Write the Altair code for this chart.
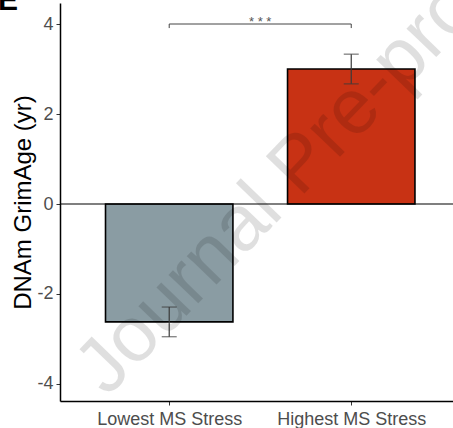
import altair as alt
import pandas as pd

# Group means (years) with standard errors
groups = ["Lowest MS Stress", "Highest MS Stress"]
positions = [1, 2]
means = [-2.62, 3.0]
errors = [0.33, 0.33]
fill_colors = ["#8A9CA3", "#C83214"]

# Significance bracket between the two groups
sig_label = "* * *"
sig_height = 4.0
sig_tip = 0.09

y_ticks = [-4, -2, 0, 2, 4]

BAR_HALF = 0.35
FONT = "Liberation Sans"

df = pd.DataFrame({"group": groups, "pos": positions, "mean": means,
                   "err": errors, "fill": fill_colors})
df["x0"] = df["pos"] - BAR_HALF
df["x1"] = df["pos"] + BAR_HALF
df["lo"] = df["mean"] - df["err"]
df["hi"] = df["mean"] + df["err"]
df["zero"] = 0.0

label_expr = " : ".join(
    f"datum.value == {p} ? '{g}'" for p, g in zip(positions[:-1], groups[:-1])
) + f" : '{groups[-1]}'"

x_scale = alt.Scale(domain=[0.4, 2.559], nice=False, zero=False)
y_scale = alt.Scale(domain=[-4.378, 4.467], nice=False, zero=False)

x_axis = alt.Axis(values=positions, labelExpr=label_expr, title=None,
                  labelPadding=5)
y_axis = alt.Axis(values=y_ticks, title="DNAm GrimAge (yr)", titlePadding=1,
                  labelExpr="datum.value + ''",
                  titleFontSize=24, titleFontWeight="normal", titleColor="black",
                  titleFont=FONT, labelPadding=3)

base = alt.Chart(df)

bars = base.mark_bar(stroke="black", strokeWidth=1.6).encode(
    x=alt.X("x0:Q", scale=x_scale, axis=x_axis),
    x2="x1:Q",
    y=alt.Y("mean:Q", scale=y_scale, axis=y_axis),
    y2="zero:Q",
    fill=alt.Fill("fill:N", scale=None),
)

zero_line = alt.Chart(pd.DataFrame({"z": [0.0]})).mark_rule(
    color="black", strokeWidth=1.2
).encode(y=alt.Y("z:Q", scale=y_scale))

err_stem = base.mark_rule(color="#3a3a3a", strokeWidth=1.2).encode(
    x=alt.X("pos:Q", scale=x_scale), y=alt.Y("lo:Q", scale=y_scale), y2="hi:Q"
)
err_lo = base.mark_tick(color="#3a3a3a", thickness=1.2, size=15, orient="horizontal").encode(
    x=alt.X("pos:Q", scale=x_scale), y=alt.Y("lo:Q", scale=y_scale)
)
err_hi = base.mark_tick(color="#3a3a3a", thickness=1.2, size=15, orient="horizontal").encode(
    x=alt.X("pos:Q", scale=x_scale), y=alt.Y("hi:Q", scale=y_scale)
)

bracket_df = pd.DataFrame({
    "xa": [positions[0], positions[0], positions[1]],
    "xb": [positions[1], positions[0], positions[1]],
    "ya": [sig_height, sig_height, sig_height],
    "yb": [sig_height, sig_height - sig_tip, sig_height - sig_tip],
})
bracket = alt.Chart(bracket_df).mark_rule(color="#444444", strokeWidth=1).encode(
    x=alt.X("xa:Q", scale=x_scale), x2="xb:Q",
    y=alt.Y("ya:Q", scale=y_scale), y2="yb:Q",
)

stars = alt.Chart(pd.DataFrame({
    "x": [sum(positions) / len(positions)], "y": [sig_height], "t": [sig_label]
})).mark_text(font=FONT, fontSize=13, color="#555555", baseline="alphabetic",
              align="center", dy=2).encode(
    x=alt.X("x:Q", scale=x_scale), y=alt.Y("y:Q", scale=y_scale), text="t:N"
)

watermark = alt.Chart(pd.DataFrame({"t": ["Journal Pre-proof"]})).mark_text(
    font=FONT, fontSize=78, color="#000000", opacity=0.12, angle=314,
    align="center", baseline="middle"
).encode(x=alt.value(240), y=alt.value(162), text="t:N")

panel = alt.Chart(pd.DataFrame({"t": ["E"]})).mark_text(
    font=FONT, fontSize=30, fontWeight="bold", color="black",
    align="left", baseline="alphabetic"
).encode(x=alt.value(-62), y=alt.value(7), text="t:N")

chart = alt.layer(
    bars, zero_line, err_stem, err_lo, err_hi, bracket, stars, watermark, panel
).properties(
    width=393, height=398,
    autosize=alt.AutoSizeParams(type="none"),
    padding={"left": 60, "top": 3, "right": 0, "bottom": 27},
).configure_view(stroke=None).configure_axis(
    grid=False, domainColor="black", domainWidth=1.5,
    tickColor="#333333", tickWidth=1, tickSize=4,
    labelColor="#4D4D4D", labelFontSize=18, labelFont=FONT,
)

chart.save("out.html", embed_options={"renderer": "svg", "actions": False})
